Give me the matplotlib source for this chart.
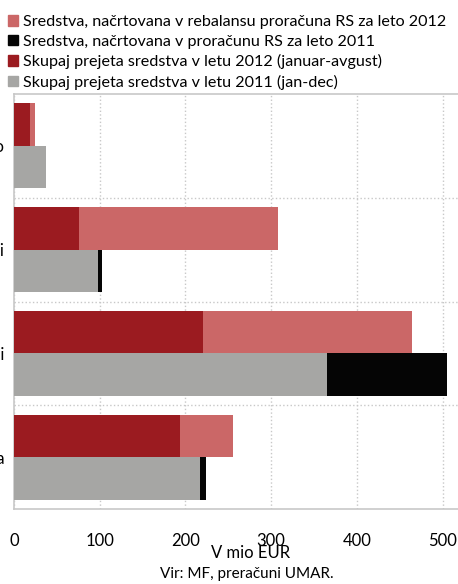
import matplotlib.pyplot as plt
from matplotlib.patches import Patch

plt.rcParams['font.family'] = ['Lato', 'DejaVu Sans']

categories = ['Ostalo', 'Kohezijski skladi', 'Strukturni skladi', 'Kmetijska politika']
plan_2012 = [24, 308, 464, 256]
received_2012 = [18.5, 76, 221, 194]
plan_2011 = [22, 103, 505, 224]
received_2011 = [37, 98.5, 365, 217]

c_plan12 = '#CB6767'
c_rec12 = '#9B1B20'
c_plan11 = '#050505'
c_rec11 = '#A6A6A4'
c_frame = '#C8C8C8'

fig = plt.figure(figsize=(4.58, 5.84), dpi=100)
ax = fig.add_axes([14 / 458, 1 - 509 / 584, 1 - 14 / 458, 415 / 584])

pos = list(range(len(categories)))
h = 0.41
top = [p - h / 2 for p in pos]
bot = [p + h / 2 for p in pos]

ax.barh(top, plan_2012, height=h, color=c_plan12, zorder=2)
ax.barh(top, received_2012, height=h, color=c_rec12, zorder=3)
ax.barh(bot, plan_2011, height=h, color=c_plan11, zorder=2)
ax.barh(bot, received_2011, height=h, color=c_rec11, zorder=3)

ax.set_xlim(0, 518)
ax.set_ylim(len(categories) - 0.5, -0.5)

ax.set_xticks([0, 100, 200, 300, 400, 500])
ax.set_yticks(pos)
ax.set_yticklabels(categories)
ax.set_yticks([0.5, 1.5, 2.5], minor=True)
ax.tick_params(axis='both', which='both', length=0, labelsize=12)
ax.tick_params(axis='x', pad=17)
ax.tick_params(axis='y', pad=7)

ax.grid(axis='x', which='major', color=c_frame, linestyle=':', linewidth=1, zorder=1)
ax.grid(axis='y', which='minor', color=c_frame, linestyle=':', linewidth=1, zorder=1)

for side in ['left', 'top', 'bottom']:
    ax.spines[side].set_color(c_frame)
    ax.spines[side].set_linewidth(1.2)
ax.spines['right'].set_visible(False)

handles = [
    Patch(color=c_plan12, label='Sredstva, načrtovana v rebalansu proračuna RS za leto 2012'),
    Patch(color=c_plan11, label='Sredstva, načrtovana v proračunu RS za leto 2011'),
    Patch(color=c_rec12, label='Skupaj prejeta sredstva v letu 2012 (januar-avgust)'),
    Patch(color=c_rec11, label='Skupaj prejeta sredstva v letu 2011 (jan-dec)'),
]
fig.legend(handles=handles, loc='upper left', bbox_to_anchor=(0.004, 0.985),
           frameon=False, fontsize=11.6, handlelength=0.62, handleheight=0.62,
           handletextpad=0.3, labelspacing=0.34, borderaxespad=0)

fig.text(251 / 458, 1 - 553 / 584, 'V mio EUR', ha='center', va='center', fontsize=12)
fig.text(247 / 458, 1 - 574 / 584, 'Vir: MF, preračuni UMAR.', ha='center', va='center', fontsize=11)

fig.savefig('out.png', dpi=100)
